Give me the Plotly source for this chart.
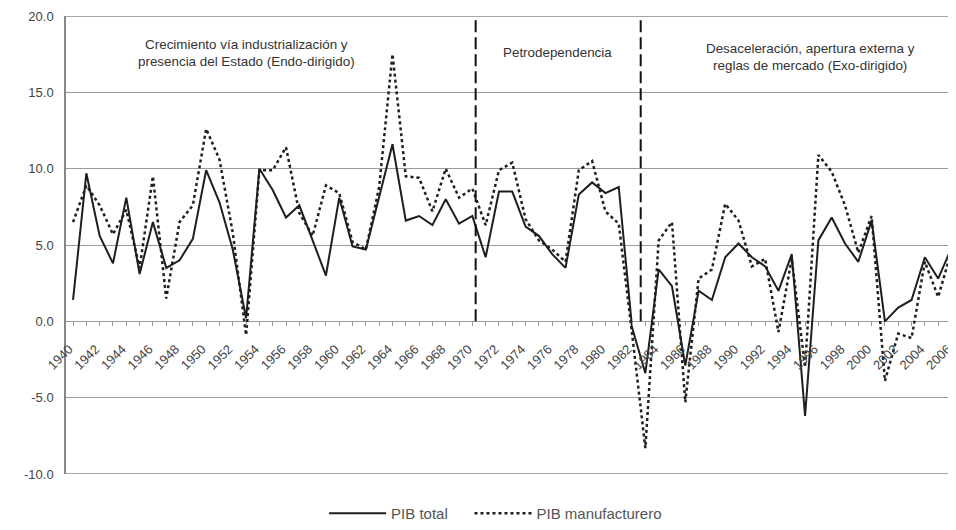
import plotly.graph_objects as go

# datos (variación % anual)
anios = list(range(1940, 2008))
pib_total = [1.4, 9.7, 5.6, 3.8, 8.1, 3.1, 6.5, 3.5, 4.0, 5.4,
             9.9, 7.8, 4.7, 0.2, 10.0, 8.6, 6.8, 7.6, 5.3, 3.0,
             8.1, 4.9, 4.7, 8.1, 11.6, 6.6, 6.9, 6.3, 8.0, 6.4,
             6.9, 4.2, 8.5, 8.5, 6.2, 5.6, 4.4, 3.5, 8.3, 9.1,
             8.4, 8.8, -0.4, -3.4, 3.4, 2.3, -2.9, 2.0, 1.4, 4.2,
             5.1, 4.2, 3.6, 2.0, 4.4, -6.2, 5.3, 6.8, 5.1, 3.9,
             6.6, 0.0, 0.9, 1.4, 4.2, 2.8, 4.8, 4.0]
pib_manuf = [6.5, 8.9, 7.6, 5.7, 7.3, 3.5, 9.5, 1.5, 6.5, 7.6,
             12.6, 10.6, 5.8, -0.9, 9.9, 9.9, 11.4, 7.1, 5.6, 8.9,
             8.4, 5.2, 4.7, 8.8, 17.5, 9.5, 9.4, 7.2, 10.0, 8.1,
             8.7, 6.3, 9.9, 10.4, 6.7, 5.3, 4.7, 3.9, 9.9, 10.5,
             7.2, 6.4, -0.8, -8.3, 5.3, 6.5, -5.3, 2.8, 3.4, 7.7,
             6.6, 3.6, 4.1, -0.7, 4.1, -3.0, 10.9, 9.8, 7.6, 4.5,
             6.9, -3.9, -0.8, -1.1, 3.9, 1.6, 4.6, 1.5]

# etiquetas del eje x cada dos años
tick_text = [str(a) if a % 2 == 0 else "" for a in anios]
y_ticks = [-10, -5, 0, 5, 10, 15, 20]
y_text = ["%.1f" % v for v in y_ticks]

# cortes entre periodos
cortes = [1970.25, 1982.65]
periodos = [
    (1953.0, 17.55, "Crecimiento vía industrialización y<br>presencia del Estado (Endo-dirigido)"),
    (1976.4, 17.6, "Petrodependencia"),
    (1995.4, 17.3, "Desaceleración, apertura externa y<br>reglas de mercado (Exo-dirigido)"),
]

fig = go.Figure()
# espacios duros al final para separar las dos entradas de la leyenda
fig.add_trace(go.Scatter(x=anios, y=pib_total, mode="lines", name="PIB total\u00a0\u00a0\u00a0\u00a0",
                         line=dict(color="#1e1e1e", width=2)))
fig.add_trace(go.Scatter(x=anios, y=pib_manuf, mode="lines", name="PIB manufacturero",
                         line=dict(color="#1e1e1e", width=2.5, dash="dot")))

for c in cortes:
    fig.add_shape(type="line", x0=c, x1=c, y0=0, y1=20, xref="x", yref="y",
                  line=dict(color="#111", width=2, dash="12px,5px"))

# bordes superior e inferior del área
for yb in [20, -10]:
    fig.add_shape(type="line", x0=0, x1=1, y0=yb, y1=yb, xref="paper", yref="y",
                  line=dict(color="#8a8a8a", width=1.5), layer="below")

for xc, yc, txt in periodos:
    fig.add_annotation(x=xc, y=yc, xref="x", yref="y", text=txt, showarrow=False,
                       font=dict(size=13.4, color="#333"), align="center")

# la página deja 8 px de margen, se compensa aquí
fig.update_layout(
    width=948, height=522,
    margin=dict(l=58, r=0, t=8, b=45),
    paper_bgcolor="white", plot_bgcolor="white",
    font=dict(family="Liberation Sans, Arial, sans-serif", color="#444", size=12),
    legend=dict(orientation="h", x=0.29, y=-0.087, xanchor="left", yanchor="middle",
                itemwidth=57, font=dict(size=15, color="#555")),
    showlegend=True,
)
fig.update_xaxes(range=[1939.47, 2006.34], tickvals=anios, ticktext=tick_text,
                 tickangle=-45, ticks="outside", ticklen=4, tickcolor="#999",
                 anchor="free", position=1/3, showgrid=False, zeroline=False,
                 showline=False, automargin=False, ticklabeloverflow="allow",
                 ticklabelstandoff=10, ticklabelshift=-4,
                 tickfont=dict(size=13, color="#444"))
fig.update_yaxes(range=[-10, 20], tickvals=y_ticks, ticktext=y_text, showgrid=True,
                 gridcolor="#9a9a9a", gridwidth=1.2, zeroline=True, zerolinecolor="#9a9a9a",
                 zerolinewidth=1.2, showline=True, linecolor="#888", linewidth=1.5,
                 ticks="", automargin=False, ticklabelstandoff=8,
                 tickfont=dict(size=13, color="#444"))

fig.write_html("out.html")
